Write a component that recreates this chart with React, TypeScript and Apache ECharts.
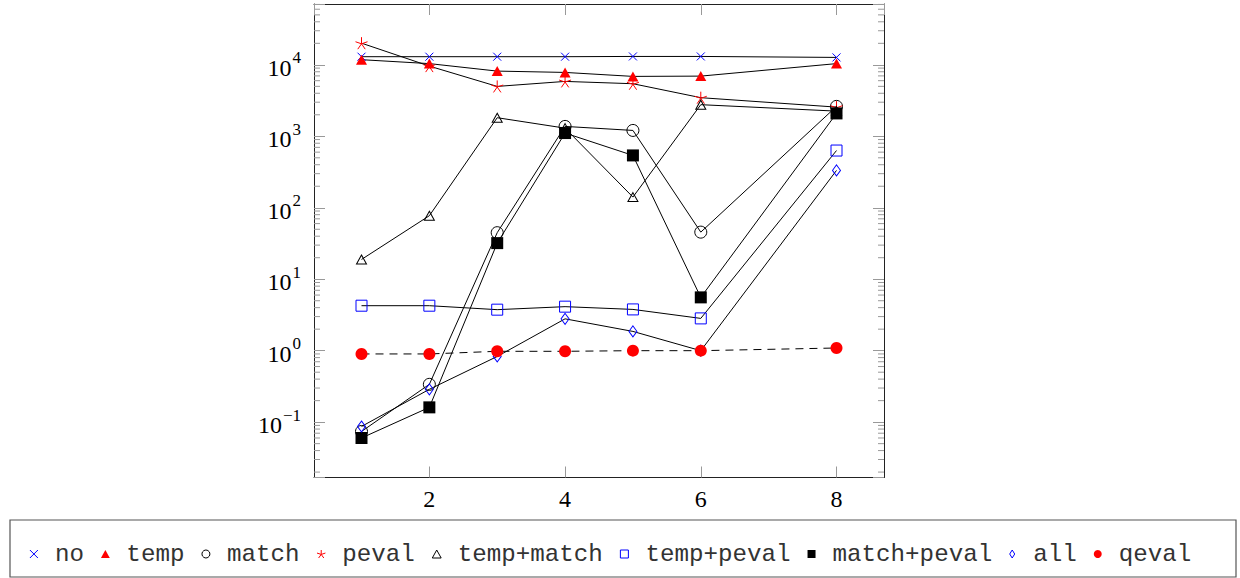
import React, { useEffect, useRef } from "react";
import * as echarts from "echarts";

// ---------- data ----------
const X = [1, 2, 3, 4, 5, 6, 8];
const NO = [13000, 13000, 13000, 13000, 13100, 13100, 12700];
const TEMP = [11800, 10400, 8170, 7830, 6890, 6950, 10400];
const MATCH = [0.074, 0.338, 44.8, 1375, 1208, 45.6, 2620];
const PEVAL = [20100, 9600, 4990, 5860, 5440, 3470, 2560];
const TEMP_MATCH = [18.9, 77.4, 1820, 1300, 141, 2770, 2250];
const TEMP_PEVAL = [4.26, 4.26, 3.75, 4.13, 3.78, 2.83, 632];
const MATCH_PEVAL = [0.06, 0.161, 32, 1110, 540, 5.57, 2090];
const ALL = [0.087, 0.288, 0.83, 2.79, 1.86, 1.0, 333];
const QEVAL = [0.9, 0.9, 0.98, 0.98, 1.0, 1.0, 1.09];

const SERIES_NAMES = [
  "no",
  "temp",
  "match",
  "peval",
  "temp+match",
  "temp+peval",
  "match+peval",
  "all",
  "qeval",
];

// axis settings
const X_MIN = 0.3;
const X_MAX = 8.7;
const Y_MIN = 0.0168;
const Y_MAX = 71000;
const X_TICK_LABELS = [2, 4, 6, 8];
const MINOR_MULTIPLIERS = [2, 3, 4, 5, 6, 7, 8, 9];
const DECADES = [-2, -1, 0, 1, 2, 3, 4];

const CROSS = "path://M0,0L10,10M10,0L0,10";
const STAR =
  "path://M0,0L0,-10M0,0L-9.51,-3.09M0,0L-5.88,8.09M0,0L5.88,8.09M0,0L9.51,-3.09";
const TRI = "path://M5,0L10,9L0,9Z";
const SQUARE = "path://M0,0L10,0L10,10L0,10Z";
const DIAMOND = "path://M5,0L10,8L5,16L0,8Z";
const CIRCLE = "circle";

const BLUE = "#0000ff";
const RED = "#ff0000";
const BLACK = "#000000";
const NONE = "rgba(0,0,0,0)";

type Sty = {
  symbol: string;
  legendIcon: string;
  size: number | number[];
  color: string;
  border: string;
  bw: number;
  dashed?: boolean;
};

const STYLES: Sty[] = [
  { symbol: CROSS, legendIcon: CROSS, size: 8, color: NONE, border: BLUE, bw: 1 },
  { symbol: "triangle", legendIcon: TRI, size: [11, 10], color: RED, border: RED, bw: 0 },
  { symbol: CIRCLE, legendIcon: CIRCLE, size: 12, color: NONE, border: BLACK, bw: 1 },
  { symbol: STAR, legendIcon: STAR, size: 12, color: NONE, border: RED, bw: 1 },
  { symbol: "triangle", legendIcon: TRI, size: [10, 9], color: NONE, border: BLACK, bw: 1 },
  { symbol: "rect", legendIcon: SQUARE, size: 11, color: NONE, border: BLUE, bw: 1 },
  { symbol: "rect", legendIcon: SQUARE, size: 12, color: BLACK, border: BLACK, bw: 0 },
  { symbol: "diamond", legendIcon: DIAMOND, size: [8, 11], color: NONE, border: BLUE, bw: 1 },
  { symbol: CIRCLE, legendIcon: CIRCLE, size: 12, color: RED, border: RED, bw: 0, dashed: true },
];

const VALUES = [NO, TEMP, MATCH, PEVAL, TEMP_MATCH, TEMP_PEVAL, MATCH_PEVAL, ALL, QEVAL];

const SUP_MINUS = "\u2212";

function yLabel(v: number): string {
  const e = Math.log10(v);
  const r = Math.round(e);
  if (Math.abs(e - r) > 1e-6) return "";
  const exp = r < 0 ? SUP_MINUS + String(-r) : String(r);
  return "{b|10}{s|" + exp + "}";
}

function xLabel(v: number): string {
  return X_TICK_LABELS.indexOf(v) >= 0 ? String(v) : "";
}

export default function App() {
  const ref = useRef<HTMLDivElement>(null);

  useEffect(() => {
    if (!ref.current) return;
    const chart = echarts.init(ref.current, undefined, { renderer: "svg" });

    const minorValues: number[][] = [];
    DECADES.forEach((d) => {
      MINOR_MULTIPLIERS.forEach((m) => {
        const v = m * Math.pow(10, d);
        if (v > Y_MIN && v < Y_MAX) minorValues.push([X_MIN, v]);
      });
    });

    const lineSeries = VALUES.map((vals, i) => {
      const s = STYLES[i];
      return {
        name: SERIES_NAMES[i],
        type: "line",
        xAxisIndex: 0,
        yAxisIndex: 0,
        data: vals.map((v, j) => [X[j], v]),
        symbol: s.symbol,
        symbolSize: s.size,
        showAllSymbol: true,
        itemStyle: { color: s.color, borderColor: s.border, borderWidth: s.bw },
        lineStyle: {
          color: BLACK,
          width: 1,
          type: s.dashed ? [8, 6] : "solid",
        },
        emphasis: { disabled: true },
        z: 3,
      };
    });

    const axisLineStyle = { color: "#222", width: 1 };
    const tickStyle = { color: "#999", width: 1 };

    const option: any = {
      animation: false,
      grid: { left: 314, right: 356, top: 4, bottom: 100.5, containLabel: false },
      xAxis: [
        {
          type: "value",
          min: X_MIN,
          max: X_MAX,
          splitNumber: 4,
          position: "bottom",
          axisLine: { show: true, onZero: false, lineStyle: axisLineStyle },
          axisTick: { show: true, inside: true, length: 11, lineStyle: tickStyle },
          splitLine: { show: false },
          axisLabel: {
            formatter: xLabel,
            fontFamily: "Liberation Serif",
            fontSize: 24,
            color: "#000",
            margin: 9,
            showMinLabel: false,
            showMaxLabel: false,
          },
        },
        {
          type: "value",
          min: X_MIN,
          max: X_MAX,
          splitNumber: 4,
          position: "top",
          axisLine: { show: true, onZero: false, lineStyle: axisLineStyle },
          axisTick: { show: true, inside: true, length: 11, lineStyle: tickStyle },
          splitLine: { show: false },
          axisLabel: { show: false },
        },
      ],
      yAxis: [
        {
          type: "log",
          logBase: 10,
          min: Y_MIN,
          max: Y_MAX,
          position: "left",
          axisLine: { show: true, onZero: false, lineStyle: axisLineStyle },
          axisTick: { show: true, inside: true, length: 11, lineStyle: tickStyle },
          splitLine: { show: false },
          axisLabel: {
            formatter: yLabel,
            margin: 13,
            rich: {
              b: {
                fontFamily: "Liberation Serif",
                fontSize: 24,
                color: "#000",
                padding: [6, 0, 0, 0],
              },
              s: {
                fontFamily: "Liberation Serif",
                fontSize: 17,
                color: "#000",
                padding: [0, 0, 14, 1],
              },
            },
          },
        },
        {
          type: "log",
          logBase: 10,
          min: Y_MIN,
          max: Y_MAX,
          position: "right",
          axisLine: { show: true, onZero: false, lineStyle: axisLineStyle },
          axisTick: { show: true, inside: true, length: 11, lineStyle: tickStyle },
          splitLine: { show: false },
          axisLabel: { show: false },
        },
      ],
      legend: {
        left: 29.4,
        top: 542,
        orient: "horizontal",
        padding: 0,
        itemWidth: 32,
        itemHeight: 8,
        itemGap: 17,
        selectedMode: false,
        symbolKeepAspect: true,
        textStyle: {
          fontFamily: "Liberation Mono",
          fontSize: 24.2,
          lineHeight: 24,
          color: "#333",
        },
        data: SERIES_NAMES.map((n, i) => ({
          name: n,
          icon: STYLES[i].legendIcon,
          itemStyle: {
            color: STYLES[i].color,
            borderColor: STYLES[i].border,
            borderWidth: STYLES[i].bw,
          },
        })),
      },
      graphic: [
        {
          type: "rect",
          shape: { x: 10, y: 520, width: 1226, height: 57 },
          style: { fill: "none", stroke: "#555", lineWidth: 1.2 },
          silent: true,
        },
      ],
      series: [
        {
          name: "minor-ticks",
          type: "custom",
          coordinateSystem: "cartesian2d",
          xAxisIndex: 0,
          yAxisIndex: 0,
          silent: true,
          clip: false,
          z: 1,
          data: minorValues,
          renderItem: (params: any, api: any) => {
            const p = api.coord([api.value(0), api.value(1)]);
            const cs = params.coordSys;
            return {
              type: "group",
              children: [
                {
                  type: "line",
                  shape: { x1: cs.x, y1: p[1], x2: cs.x + 6, y2: p[1] },
                  style: { stroke: "#999", lineWidth: 1 },
                },
                {
                  type: "line",
                  shape: {
                    x1: cs.x + cs.width,
                    y1: p[1],
                    x2: cs.x + cs.width - 6,
                    y2: p[1],
                  },
                  style: { stroke: "#999", lineWidth: 1 },
                },
              ],
            };
          },
        },
        ...lineSeries,
      ],
    };

    chart.setOption(option);
    return () => chart.dispose();
  }, []);

  return (
    <div
      ref={ref}
      style={{ position: "absolute", left: 0, top: 0, width: 1240, height: 578 }}
    />
  );
}
